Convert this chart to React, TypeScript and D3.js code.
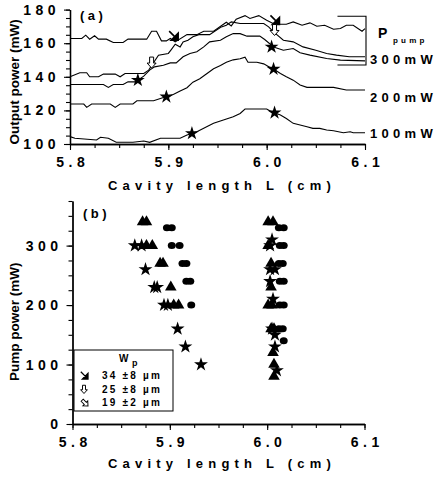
import React, { useRef, useEffect, useCallback } from 'react';
import * as d3 from 'd3';

type Pt = [number, number];

// panel (a): output power vs cavity length
const line300a: Pt[] = [[5.8,162.8],[5.812,162.8],[5.816,164.8],[5.82,162.4],[5.825,164.4],[5.829,162.4],[5.837,162.4],[5.844,160.4],[5.854,160.4],[5.859,162.4],[5.878,162.4],[5.883,167.1],[5.888,167.1],[5.893,161.4],[5.898,161.4],[5.902,162.8],[5.907,160.8],[5.919,165.1],[5.929,165.1],[5.936,167.1],[5.946,167.1],[5.959,172.5],[5.964,170.3],[5.969,174.3],[5.978,176.4],[5.983,174.7],[5.992,176.4],[6.0,173.7],[6.008,171.3],[6.02,171.3],[6.027,172.7],[6.036,170.7],[6.044,172.1],[6.051,170.1],[6.059,170.7],[6.068,168.3],[6.075,168.7],[6.081,170.7],[6.088,170.7],[6.097,167.1],[6.1,168.7]];
const line300b: Pt[] = [[5.8,140],[5.81,142.4],[5.817,142.4],[5.82,140],[5.829,140],[5.834,141.6],[5.846,141.6],[5.851,140],[5.856,142],[5.875,142],[5.88,144],[5.89,152.9],[5.9,153.9],[5.903,156.2],[5.907,159.4],[5.912,157.8],[5.915,160.8],[5.92,161.8],[5.925,163.8],[5.931,165.1],[5.942,165.1],[5.946,166.7],[5.954,169.7],[5.959,170.7],[5.964,172.7],[5.973,171.7],[5.997,171.7],[6.002,169.7],[6.007,166.7],[6.017,161.8],[6.027,160.8],[6.037,157.8],[6.05,155.8],[6.061,153.9],[6.071,152.9],[6.084,151.9],[6.1,151.9]];
const line300c: Pt[] = [[5.8,135.4],[5.834,135.4],[5.839,133.7],[5.844,135.4],[5.854,135.4],[5.859,137],[5.866,137],[5.869,138],[5.875,140.4],[5.881,144],[5.886,145.9],[5.895,146.9],[5.902,148.3],[5.908,148.3],[5.915,151.9],[5.922,153.9],[5.929,154.9],[5.936,157.8],[5.942,160.8],[5.953,161.8],[5.959,163.8],[5.966,165.7],[5.973,165.7],[5.98,164.2],[5.993,164.2],[5.998,162.2],[6.007,157.8],[6.017,155.8],[6.027,156.8],[6.034,154.3],[6.044,152.9],[6.061,150.9],[6.075,149.9],[6.1,149.5]];
const line200: Pt[] = [[5.8,123.8],[5.814,123.8],[5.817,121.8],[5.822,123.8],[5.841,123.8],[5.846,121.8],[5.851,123.8],[5.864,123.8],[5.868,125.7],[5.885,125.7],[5.895,127.7],[5.898,128.1],[5.905,129.5],[5.912,131.5],[5.919,133.5],[5.925,136.8],[5.932,138.8],[5.939,141.8],[5.946,144.8],[5.953,146.7],[5.959,148.7],[5.966,150.1],[5.973,150.7],[5.978,151.7],[5.981,148.7],[5.99,148.7],[5.997,147.7],[6.003,145.7],[6.007,144.6],[6.014,142],[6.02,140],[6.027,138],[6.034,135.1],[6.041,133.7],[6.068,133.7],[6.081,132.1],[6.1,132.1]];
const line100: Pt[] = [[5.8,104.4],[5.805,103.4],[5.827,102.4],[5.831,104],[5.839,103.4],[5.847,101],[5.864,101],[5.875,101.8],[5.881,101],[5.892,103.4],[5.912,103.4],[5.919,105.3],[5.924,106.3],[5.929,107.3],[5.939,110.3],[5.946,112.3],[5.956,114.3],[5.966,116.2],[5.973,118.2],[5.978,120.8],[6.0,120.8],[6.005,119.2],[6.008,118.6],[6.014,117.2],[6.02,115.2],[6.027,112.3],[6.034,111.3],[6.041,110.3],[6.047,109.3],[6.054,109.3],[6.061,108.3],[6.068,107.9],[6.078,106.7],[6.085,107.3],[6.088,106.7],[6.1,106.7]];
const linesA = [line300a, line300b, line300c, line200, line100];

const arrowsFilledA: Pt[] = [[5.91, 161.8], [6.013, 171.2]];
const arrowsOpenA: Pt[] = [[5.883, 145.2], [6.008, 164.6]];
const starsA: Pt[] = [[5.869,138],[6.005,157.8],[5.898,128.1],[6.007,144.6],[5.924,106.3],[6.008,118.6]];
const pumpLabels = [{ text: '300mW', y: 150.5 }, { text: '200mW', y: 128 }, { text: '100mW', y: 106 }];

// panel (b): pump power vs cavity length
const starsB: Pt[] = [[5.864,300],[5.871,300],[5.875,260],[5.884,230],[5.887,230],[5.894,200],[5.898,200],[5.908,160],[5.916,130],[5.932,100],[6.003,300],[6.005,310],[6.003,260],[6.008,260],[6.003,240],[6.006,210],[6.005,160],[6.008,150],[6.008,130],[6.01,90]];
const trianglesB: Pt[] = [[5.872,340],[5.876,340],[5.876,300],[5.882,300],[5.89,270],[5.893,270],[5.901,230],[5.904,200],[5.909,200],[6.001,340],[6.006,340],[6.001,300],[6.004,270],[6.004,230],[6.001,200],[6.005,200],[6.004,160],[6.007,160],[6.006,120],[6.007,100],[6.007,80]];
const circlesB: Pt[] = [[5.897,330],[5.902,330],[5.902,300],[5.91,300],[5.913,270],[5.917,270],[5.917,240],[5.921,240],[5.922,200],[6.012,330],[6.017,330],[6.013,300],[6.017,300],[6.012,270],[6.016,270],[6.013,240],[6.017,240],[6.013,200],[6.017,200],[6.012,160],[6.016,160],[6.017,140]];
const legendRows = ['34 ±8 µm', '25 ±8 µm', '19 ±2 µm'];

const xTicks = [5.8, 5.9, 6.0, 6.1];
const yTicksA = [100, 120, 140, 160, 180];
const yTicksB = [0, 100, 200, 300];

const FONT = '"Liberation Sans", Arial, sans-serif';
const LS = 4.5;

const filledArrow = 'M0,0 L-7,0 L0,-7 Z M-2,-2 L-9,-9';
const openDown = 'M-2,-11 H2 V-5 H4.5 L0,0 L-4.5,-5 H-2 Z';

const App = () => {
  const svgRef = useRef<SVGSVGElement>(null);

  const drawAxes = useCallback((g: any, x: any, y: any, yMajor: number[], yMinorStep: number, yMax: number, yMin: number) => {
    const h = y.range()[0];
    const xMinor = d3.range(5.8, 6.1001, 0.025);
    g.append('g').attr('transform', `translate(0,${h})`)
      .call(d3.axisBottom(x).tickValues(xMinor).tickSize(4).tickSizeOuter(0).tickFormat(() => ''));
    const xa = g.append('g').attr('transform', `translate(0,${h})`)
      .call(d3.axisBottom(x).tickValues(xTicks).tickSize(6).tickSizeOuter(0).tickPadding(4).tickFormat(d3.format('.1f')));
    xa.selectAll('text').attr('dx', LS / 2).attr('dy', '0.9em');
    const yMinor = d3.range(yMin, yMax + 0.001, yMinorStep);
    g.append('g').attr('transform', `translate(${x.range()[0]},0)`)
      .call(d3.axisLeft(y).tickValues(yMinor).tickSize(4).tickSizeOuter(0).tickFormat(() => ''));
    g.append('g').attr('transform', `translate(${x.range()[0]},0)`)
      .call(d3.axisLeft(y).tickValues(yMajor).tickSize(6).tickSizeOuter(0).tickPadding(4).tickFormat(d3.format('d')));
    g.selectAll('.domain').attr('stroke-width', 1.3);
    g.selectAll('.tick line').attr('stroke-width', 1.1);
    g.selectAll('.tick text')
      .attr('font-family', FONT).attr('font-weight', 'bold').attr('font-size', 14)
      .attr('letter-spacing', LS).attr('fill', '#000');
  }, []);

  const drawChart = useCallback((svgEl: SVGSVGElement) => {
    const svg = d3.select(svgEl);
    svg.selectAll('*').remove();

    // ---------- panel (a)
    const xA = d3.scaleLinear().domain([5.8, 6.1]).range([70, 365]);
    const yA = d3.scaleLinear().domain([100, 180]).range([144, 9.6]);
    const ga = svg.append('g');
    drawAxes(ga, xA, yA, yTicksA, 5, 180, 100);

    const line = d3.line<Pt>().x(d => xA(d[0])).y(d => yA(d[1]));
    ga.selectAll('path.curve').data(linesA).join('path').attr('class', 'curve')
      .attr('d', d => line(d)).attr('fill', 'none').attr('stroke', '#000').attr('stroke-width', 1.1);

    ga.selectAll('path.farr').data(arrowsFilledA).join('path').attr('class', 'farr')
      .attr('transform', d => `translate(${xA(d[0])},${yA(d[1])})`)
      .attr('d', filledArrow).attr('fill', '#000').attr('stroke', '#000').attr('stroke-width', 1.6);
    ga.selectAll('path.oarr').data(arrowsOpenA).join('path').attr('class', 'oarr')
      .attr('transform', d => `translate(${xA(d[0])},${yA(d[1])})`)
      .attr('d', openDown).attr('fill', '#fff').attr('stroke', '#000').attr('stroke-width', 1);
    ga.selectAll('path.star').data(starsA).join('path').attr('class', 'star')
      .attr('transform', d => `translate(${xA(d[0])},${yA(d[1])})`)
      .attr('d', d3.symbol(d3.symbolStar, 60)()).attr('fill', '#000');

    // bracket for the 300 mW curves
    ga.append('path')
      .attr('d', `M${xA(6.072)},${yA(176)} H${xA(6.1) + 1} V${yA(147)} H${xA(6.072)}`)
      .attr('fill', 'none').attr('stroke', '#000').attr('stroke-width', 1.1);
    ga.append('text').attr('x', 378).attr('y', 38).text('P')
      .attr('font-family', FONT).attr('font-weight', 'bold').attr('font-size', 14);
    ga.append('text').attr('x', 393).attr('y', 43).text('pump')
      .attr('font-family', FONT).attr('font-weight', 'bold').attr('font-size', 8).attr('letter-spacing', 3.2);
    ga.selectAll('text.pl').data(pumpLabels).join('text').attr('class', 'pl')
      .attr('x', 370).attr('y', d => yA(d.y)).attr('dy', '0.35em').text(d => d.text)
      .attr('font-family', FONT).attr('font-weight', 'bold').attr('font-size', 13).attr('letter-spacing', 4.3);
    ga.append('text').attr('x', 80).attr('y', 20).text('(a)')
      .attr('font-family', FONT).attr('font-weight', 'bold').attr('font-size', 13).attr('letter-spacing', 3.5);
    ga.append('text').attr('x', 222).attr('y', 190).attr('text-anchor', 'middle').text('Cavity length L (cm)')
      .attr('font-family', FONT).attr('font-weight', 'bold').attr('font-size', 13).attr('letter-spacing', 5.2);
    ga.append('text').attr('transform', `translate(19,${(yA(180) + yA(100)) / 2 + 5}) rotate(-90)`)
      .attr('text-anchor', 'middle').text('Output power (mW)')
      .attr('font-family', FONT).attr('font-weight', 'bold').attr('font-size', 13.5);

    // ---------- panel (b)
    const xB = d3.scaleLinear().domain([5.8, 6.1]).range([72.5, 364.5]);
    const yB = d3.scaleLinear().domain([0, 375]).range([424, 201]);
    const gb = svg.append('g');
    drawAxes(gb, xB, yB, yTicksB, 25, 375, 0);

    gb.selectAll('ellipse.c').data(circlesB).join('ellipse').attr('class', 'c')
      .attr('cx', d => xB(d[0])).attr('cy', d => yB(d[1])).attr('rx', 4).attr('ry', 3.5).attr('fill', '#000');
    gb.selectAll('path.t').data(trianglesB).join('path').attr('class', 't')
      .attr('transform', d => `translate(${xB(d[0])},${yB(d[1])})`)
      .attr('d', d3.symbol(d3.symbolTriangle, 58)()).attr('fill', '#000');
    gb.selectAll('path.s').data(starsB).join('path').attr('class', 's')
      .attr('transform', d => `translate(${xB(d[0])},${yB(d[1])})`)
      .attr('d', d3.symbol(d3.symbolStar, 60)()).attr('fill', '#000');

    gb.append('text').attr('x', 83).attr('y', 218).text('(b)')
      .attr('font-family', FONT).attr('font-weight', 'bold').attr('font-size', 13).attr('letter-spacing', 3.5);
    gb.append('text').attr('x', 222).attr('y', 468).attr('text-anchor', 'middle').text('Cavity length L (cm)')
      .attr('font-family', FONT).attr('font-weight', 'bold').attr('font-size', 13).attr('letter-spacing', 5.2);
    gb.append('text').attr('transform', `translate(19,${yB(172)}) rotate(-90)`)
      .attr('text-anchor', 'middle').text('Pump power (mW)')
      .attr('font-family', FONT).attr('font-weight', 'bold').attr('font-size', 13.5);

    // legend box
    const lg = gb.append('g').attr('transform', 'translate(74,350)');
    lg.append('rect').attr('width', 99).attr('height', 61).attr('fill', '#fff').attr('stroke', '#000').attr('stroke-width', 1);
    lg.append('text').attr('x', 45).attr('y', 12).text('W')
      .attr('font-family', FONT).attr('font-weight', 'bold').attr('font-size', 10);
    lg.append('text').attr('x', 58).attr('y', 16).text('p')
      .attr('font-family', FONT).attr('font-weight', 'bold').attr('font-size', 9);
    const rows = lg.selectAll('g.row').data(legendRows).join('g').attr('class', 'row')
      .attr('transform', (d, i) => `translate(0,${25 + i * 13.5})`);
    rows.append('text').attr('x', 28).attr('y', 4).text(d => d)
      .attr('font-family', FONT).attr('font-weight', 'bold').attr('font-size', 10).attr('letter-spacing', 2.2);
    rows.filter((d, i) => i === 0).append('path')
      .attr('transform', 'translate(14,4) scale(0.8)').attr('d', filledArrow)
      .attr('fill', '#000').attr('stroke', '#000').attr('stroke-width', 1.6);
    rows.filter((d, i) => i === 1).append('path')
      .attr('transform', 'translate(10,5) scale(0.75)').attr('d', openDown)
      .attr('fill', '#fff').attr('stroke', '#000').attr('stroke-width', 1.3);
    rows.filter((d, i) => i === 2).append('path')
      .attr('transform', 'translate(14,4) rotate(-45) scale(0.75)').attr('d', openDown)
      .attr('fill', '#fff').attr('stroke', '#000').attr('stroke-width', 1.3);
  }, [drawAxes]);

  useEffect(() => {
    if (svgRef.current) drawChart(svgRef.current);
  }, [drawChart]);

  return (
    <svg ref={svgRef} width={440} height={477}
      style={{ position: 'absolute', left: 0, top: 0, background: '#fff' }} />
  );
};

export default App;
